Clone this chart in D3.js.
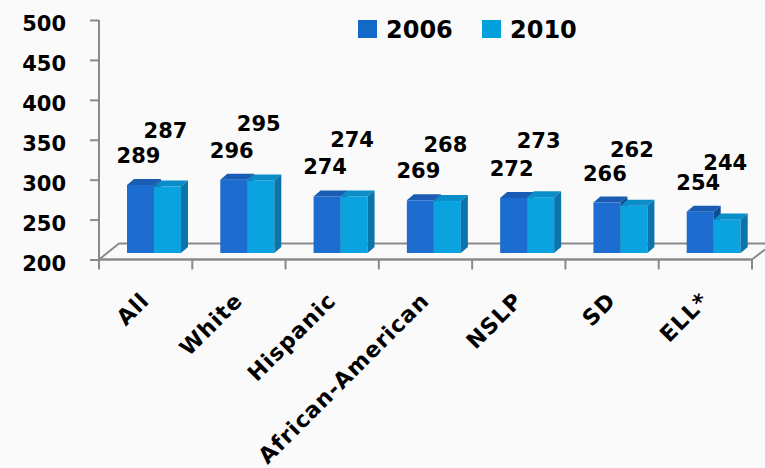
<!DOCTYPE html>
<html>
<head>
<meta charset="utf-8">
<script src="https://cdn.jsdelivr.net/npm/d3@7"></script>
<style>
  body { margin: 0; background: #fafafa; }
  svg text { font-family: "Comic Sans MS", "DejaVu Sans", sans-serif; font-weight: bold; fill: #000; }
</style>
</head>
<body>
<svg id="chart"></svg>
<script>
// data
const categories = ["All", "White", "Hispanic", "African-American", "NSLP", "SD", "ELL*"];
const values2006 = [289, 296, 274, 269, 272, 266, 254];
const values2010 = [287, 295, 274, 268, 273, 262, 244];
const seriesNames = ["2006", "2010"];
const yTicks = [200, 250, 300, 350, 400, 450, 500];

const width = 765, height = 468;
const left = 99, right = 752;
const axisBottom = 259.5, axisTop = 20;
const depthX = 7, depthY = -6;

const svg = d3.select("#chart")
    .attr("width", width)
    .attr("height", height);

svg.append("rect")
    .attr("width", width)
    .attr("height", height)
    .attr("fill", "#fafafa");

const y = d3.scaleLinear()
    .domain([200, 500])
    .range([axisBottom, axisTop]);

// bars sit a bit back on the floor, so their front face is slightly compressed
const yBar = d3.scaleLinear()
    .domain([200, 500])
    .range([253, 253 - 300 * 0.764]);

const x = d3.scaleBand()
    .domain(categories)
    .range([left, right])
    .padding(0);

// floor
const floorBack = 243.5;
svg.append("path")
    .attr("d", `M${left},${axisBottom} L${left + 20},${floorBack} L${width},${floorBack}`)
    .attr("fill", "none")
    .attr("stroke", "#8a8a8a")
    .attr("stroke-width", 2);
svg.append("path")
    .attr("d", `M${right},${axisBottom} L${width},${axisBottom - 10}`)
    .attr("fill", "none")
    .attr("stroke", "#8a8a8a")
    .attr("stroke-width", 2);

// y axis
const yAxis = svg.append("g")
    .attr("transform", `translate(${left},0)`)
    .call(d3.axisLeft(y).tickValues(yTicks).tickSize(9).tickPadding(24).tickFormat(d3.format("d")));
yAxis.selectAll("path, line").attr("stroke", "#8a8a8a").attr("stroke-width", 2);
yAxis.select(".domain").attr("d", `M0,${axisBottom}V${axisTop}`);
yAxis.selectAll("text")
    .style("font-size", "21px")
    .attr("dy", "0.5em");

// x axis line + ticks at band edges
svg.append("line")
    .attr("x1", left).attr("x2", right)
    .attr("y1", axisBottom).attr("y2", axisBottom)
    .attr("stroke", "#8a8a8a")
    .attr("stroke-width", 2.5);
const edges = categories.map(c => x(c)).concat([right]);
svg.selectAll(".xtick")
    .data(edges)
  .enter().append("line")
    .attr("class", "xtick")
    .attr("x1", d => d).attr("x2", d => d)
    .attr("y1", axisBottom).attr("y2", axisBottom + 10)
    .attr("stroke", "#8a8a8a")
    .attr("stroke-width", 2);

svg.selectAll(".xlabel")
    .data(categories)
  .enter().append("text")
    .attr("class", "xlabel")
    .attr("transform", d => `translate(${x(d) + x.bandwidth() / 2 + 5},302) rotate(-45)`)
    .attr("text-anchor", "end")
    .style("font-size", "22px")
    .style("letter-spacing", "1px")
    .text(d => d);

// 3d bars
const barW = 27, barOffset = 28;
const styles = [
    { front: "#1d6ccf", top: "#1a5cb4", side: "#0d4d92" },
    { front: "#0aa2df", top: "#0a8dc8", side: "#0a74ab" }
];

function drawBar(g, x0, v, s) {
    const yt = yBar(v), yb = yBar(200);
    g.append("rect")
        .attr("x", x0).attr("y", yt)
        .attr("width", barW).attr("height", yb - yt)
        .attr("fill", s.front);
    g.append("path")
        .attr("d", `M${x0},${yt} L${x0 + depthX},${yt + depthY} L${x0 + barW + depthX},${yt + depthY} L${x0 + barW},${yt} Z`)
        .attr("fill", s.top);
    g.append("path")
        .attr("d", `M${x0 + barW},${yt} L${x0 + barW + depthX},${yt + depthY} L${x0 + barW + depthX},${yb + depthY} L${x0 + barW},${yb} Z`)
        .attr("fill", s.side);
}

const bars = svg.append("g");
categories.forEach((c, i) => {
    const g = bars.append("g");
    drawBar(g, x(c) + barOffset, values2006[i], styles[0]);
    drawBar(g, x(c) + barOffset + barW, values2010[i], styles[1]);
});

// value labels
svg.selectAll(".lab2006")
    .data(values2006)
  .enter().append("text")
    .attr("class", "lab2006")
    .attr("x", (d, i) => x(categories[i]) + barOffset + barW / 2 - 2)
    .attr("y", d => yBar(d) - 22)
    .attr("text-anchor", "middle")
    .style("font-size", "21px")
    .text(d => d);

svg.selectAll(".lab2010")
    .data(values2010)
  .enter().append("text")
    .attr("class", "lab2010")
    .attr("x", (d, i) => x(categories[i]) + barOffset + barW * 1.5 - 2)
    .attr("y", d => yBar(d) - 49)
    .attr("text-anchor", "middle")
    .style("font-size", "21px")
    .text(d => d);

// legend
const legendX = [358, 482];
const legendColors = ["#1469c8", "#00a0dc"];
const legend = svg.selectAll(".legend")
    .data(seriesNames)
  .enter().append("g")
    .attr("class", "legend")
    .attr("transform", (d, i) => `translate(${legendX[i]},20)`);
legend.append("rect")
    .attr("width", 19).attr("height", 18)
    .attr("fill", (d, i) => legendColors[i]);
legend.append("text")
    .attr("x", 28).attr("y", 18)
    .style("font-size", "24px")
    .text(d => d);
</script>
</body>
</html>
